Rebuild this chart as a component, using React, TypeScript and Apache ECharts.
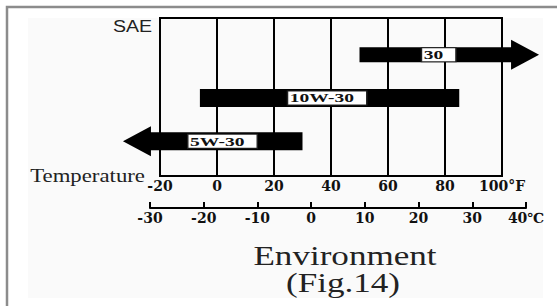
import React, { useEffect, useRef } from 'react';
import * as echarts from 'echarts';

// SAE viscosity grades and their recommended ambient temperature ranges (°F)
const grades = ['30', '10W-30', '5W-30'];
const startF = [50, -6, -33];
const endF = [113, 85, 30];
const rowLevel = [3, 2, 1];
const arrowLeft = [0, 0, 1];
const arrowRight = [1, 0, 0];
const labelAtF = [72, 25, -10];

// axis scales
const fahrenheitMin = -20;
const fahrenheitMax = 100;
const fahrenheitStep = 20;
const celsiusMin = -30;
const celsiusMax = 40;
const celsiusStep = 10;

// styles
const barThickness = [15, 18, 18];
const headLen = 28;
const headHalf = 15;

export default function App() {
  const ref = useRef<HTMLDivElement>(null);

  useEffect(() => {
    if (!ref.current) return;
    const chart = echarts.init(ref.current, null, { renderer: 'svg' });

    const data = grades.map((g, i) => [
      startF[i],
      endF[i],
      rowLevel[i],
      labelAtF[i],
      arrowLeft[i],
      arrowRight[i],
    ]);

    const option: any = {
      animation: false,
      backgroundColor: '#ffffff',
      grid: [
        {
          left: 160,
          right: 55,
          top: 18,
          bottom: 130,
          show: true,
          borderColor: '#000',
          borderWidth: 2,
          backgroundColor: 'transparent',
        },
        {
          left: 150,
          right: 31,
          top: 150,
          bottom: 98,
          show: false,
        },
      ],
      xAxis: [
        {
          type: 'value',
          gridIndex: 0,
          min: fahrenheitMin,
          max: fahrenheitMax,
          interval: fahrenheitStep,
          axisLine: { show: false },
          axisTick: { show: false },
          splitLine: { show: true, lineStyle: { color: '#000', width: 2 } },
          axisLabel: {
            color: '#111',
            fontFamily: 'DejaVu Serif',
            fontWeight: 'bold',
            fontSize: 14,
            margin: 3,
            formatter: (v: number) => (v === fahrenheitMax ? v + '°F' : String(v)),
          },
        },
        {
          type: 'value',
          gridIndex: 1,
          min: celsiusMin,
          max: celsiusMax,
          interval: celsiusStep,
          axisLine: { show: true, onZero: false, lineStyle: { color: '#000', width: 2 } },
          axisTick: { show: true, inside: true, length: 6, lineStyle: { color: '#000', width: 2 } },
          splitLine: { show: false },
          axisLabel: {
            color: '#111',
            fontFamily: 'DejaVu Serif',
            fontWeight: 'bold',
            fontSize: 14,
            margin: 3,
            formatter: (v: number) => (v === celsiusMax ? v + '℃' : String(v)),
          },
        },
      ],
      yAxis: [
        { type: 'value', gridIndex: 0, min: 0.2, max: 3.85, show: false },
        { type: 'value', gridIndex: 1, min: 0, max: 1, show: false },
      ],
      graphic: [
        {
          type: 'rect',
          z: -10,
          shape: { x: 28, y: 18, width: 515, height: 280 },
          style: { fill: '#fafafa' },
        },
        {
          type: 'polyline',
          shape: { points: [[7, 306], [7, 7], [557, 7]] },
          style: { stroke: '#8c8c8c', lineWidth: 2.5, fill: null },
        },
        {
          type: 'text',
          x: 152,
          y: 26,
          scaleX: 1.15,
          style: {
            text: 'SAE',
            font: '17px "Liberation Sans"',
            fill: '#222',
            textAlign: 'right',
            textVerticalAlign: 'middle',
          },
        },
        {
          type: 'text',
          x: 145,
          y: 176,
          scaleX: 1.2,
          style: {
            text: 'Temperature',
            font: '19px "Liberation Serif"',
            fill: '#222',
            textAlign: 'right',
            textVerticalAlign: 'middle',
          },
        },
        {
          type: 'text',
          x: 345,
          y: 256,
          scaleX: 1.3,
          style: {
            text: 'Environment',
            font: '27px "Liberation Serif"',
            fill: '#222',
            textAlign: 'center',
            textVerticalAlign: 'middle',
          },
        },
        {
          type: 'text',
          x: 343,
          y: 283,
          scaleX: 1.3,
          style: {
            text: '(Fig.14)',
            font: '27px "Liberation Serif"',
            fill: '#222',
            textAlign: 'center',
            textVerticalAlign: 'middle',
          },
        },
      ],
      series: [
        {
          type: 'custom',
          xAxisIndex: 0,
          yAxisIndex: 0,
          clip: false,
          data,
          encode: { x: [0, 1, 3], y: 2 },
          renderItem: (params: any, api: any) => {
            const i = params.dataIndex;
            const row = api.value(2);
            const p0 = api.coord([api.value(0), row]);
            const p1 = api.coord([api.value(1), row]);
            const lab = api.coord([api.value(3), row]);
            const hasL = api.value(4) === 1;
            const hasR = api.value(5) === 1;
            const y = p0[1];
            const h = barThickness[i] / 2;
            const x0 = p0[0];
            const x1 = p1[0];
            const pts: number[][] = [];
            if (hasL) {
              const xb = x0 + headLen;
              pts.push([x0, y], [xb, y - headHalf], [xb, y - h]);
            } else {
              pts.push([x0, y - h]);
            }
            if (hasR) {
              const xb = x1 - headLen;
              pts.push([xb, y - h], [xb, y - headHalf], [x1, y], [xb, y + headHalf], [xb, y + h]);
            } else {
              pts.push([x1, y - h], [x1, y + h]);
            }
            if (hasL) {
              const xb = x0 + headLen;
              pts.push([xb, y + h], [xb, y + headHalf]);
            } else {
              pts.push([x0, y + h]);
            }
            return {
              type: 'group',
              children: [
                {
                  type: 'polygon',
                  shape: { points: pts },
                  style: { fill: '#000' },
                },
                {
                  type: 'text',
                  x: lab[0],
                  y: y,
                  scaleX: 1.5,
                  style: {
                    text: grades[i],
                    font: 'bold 13px "Liberation Serif"',
                    fill: '#111',
                    textAlign: 'left',
                    textVerticalAlign: 'middle',
                    backgroundColor: '#fff',
                    borderColor: '#222',
                    borderWidth: 1,
                    padding: [1, 8, 0, 1],
                    lineHeight: 12,
                  },
                },
              ],
            };
          },
        },
        {
          type: 'line',
          xAxisIndex: 1,
          yAxisIndex: 1,
          data: [],
        },
      ],
    };

    chart.setOption(option);
    return () => chart.dispose();
  }, []);

  return (
    <div
      ref={ref}
      style={{ position: 'absolute', left: 0, top: 0, width: 557, height: 306 }}
    />
  );
}
